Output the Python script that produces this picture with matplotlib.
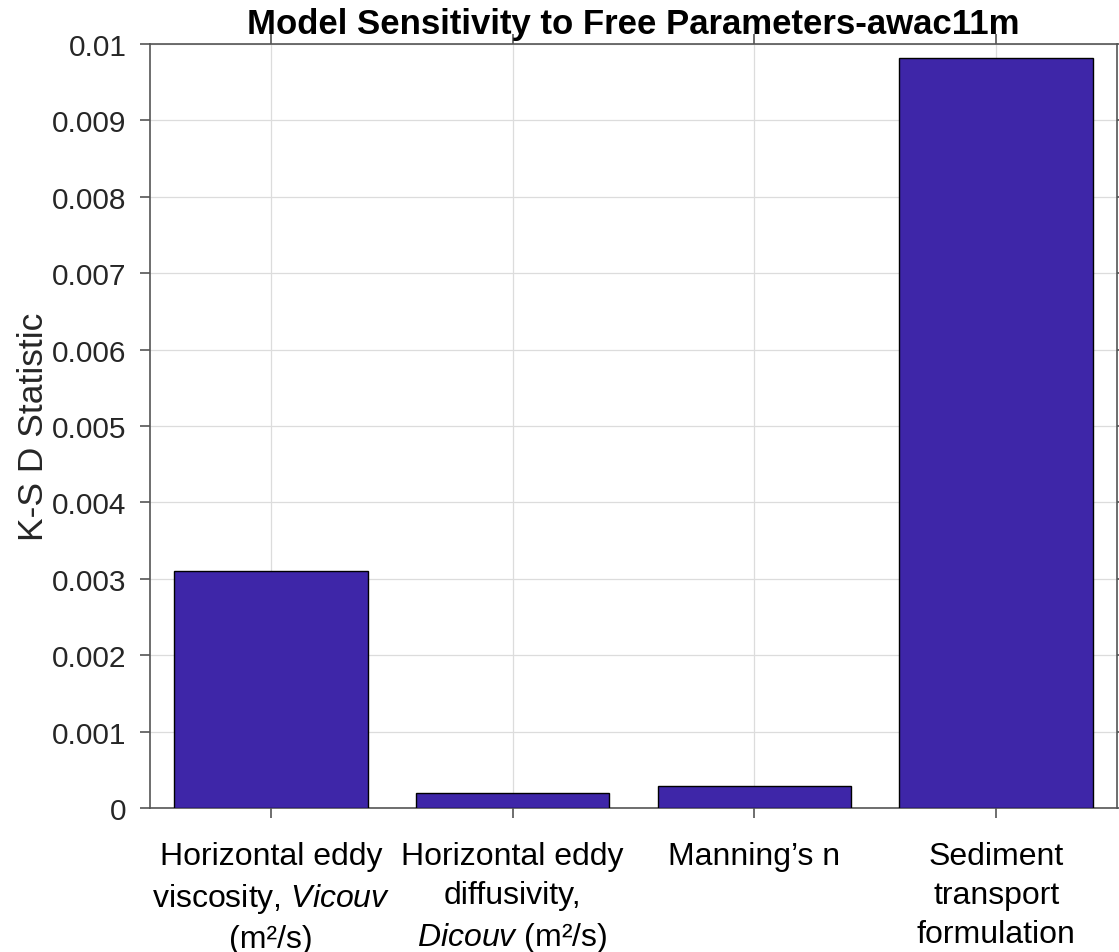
import numpy as np
import matplotlib
matplotlib.use("Agg")
import matplotlib.pyplot as plt
from matplotlib.ticker import FuncFormatter

plt.rcParams['font.family'] = ['Liberation Sans', 'DejaVu Sans']
plt.rcParams['mathtext.fontset'] = 'custom'
plt.rcParams['mathtext.rm'] = 'Liberation Sans'
plt.rcParams['mathtext.it'] = 'Liberation Sans:italic'
plt.rcParams['mathtext.bf'] = 'Liberation Sans:bold'

# K-S D statistic for each free parameter
params = [
    "Horizontal eddy\nviscosity, $\\mathit{Vicouv}$\n(m\u00b2/s)",
    "Horizontal eddy\ndiffusivity,\n$\\mathit{Dicouv}$ (m\u00b2/s)",
    "Manning\u2019s n",
    "Sediment\ntransport\nformulation",
]
ks_d = [0.0031, 0.00019, 0.00029, 0.00982]
yticks = np.arange(0, 0.0101, 0.001)

bar_color = '#3e26a8'
axis_color = '#555555'
text_color = '#262626'

fig = plt.figure(figsize=(11.19, 9.53), dpi=100)
ax = fig.add_axes([150 / 1119, 1 - 809 / 953, (1117 - 150) / 1119, (809 - 45) / 953])

x = np.arange(1, len(ks_d) + 1)
ax.bar(x, ks_d, width=0.8, color=bar_color, edgecolor='black', linewidth=1.0, zorder=3)

ax.set_xlim(0.5, 4.5)
ax.set_ylim(0, 0.01)
ax.set_xticks(x)
ax.set_xticklabels(params, fontsize=23, color='black', linespacing=1.38)
ax.set_yticks(yticks)
ax.yaxis.set_major_formatter(FuncFormatter(lambda v, p: '%g' % round(v, 4)))

ax.grid(True, color='#dcdcdc', linewidth=0.9, zorder=0)
ax.set_axisbelow(True)
for s in ax.spines.values():
    s.set_color(axis_color)
    s.set_linewidth(1.2)

ax.tick_params(axis='both', direction='out', length=7, width=1.2, color=axis_color,
               top=True, right=True)
ax.tick_params(axis='y', labelsize=21.5, labelcolor=text_color, pad=10)
ax.tick_params(axis='x', pad=17)

ax.set_ylabel('K-S D Statistic', fontsize=25.5, color=text_color, labelpad=1)
ax.set_title('Model Sensitivity to Free Parameters-awac11m', fontsize=25,
             fontweight='bold', color='black', pad=8)

fig.savefig('out.png', dpi=100)
